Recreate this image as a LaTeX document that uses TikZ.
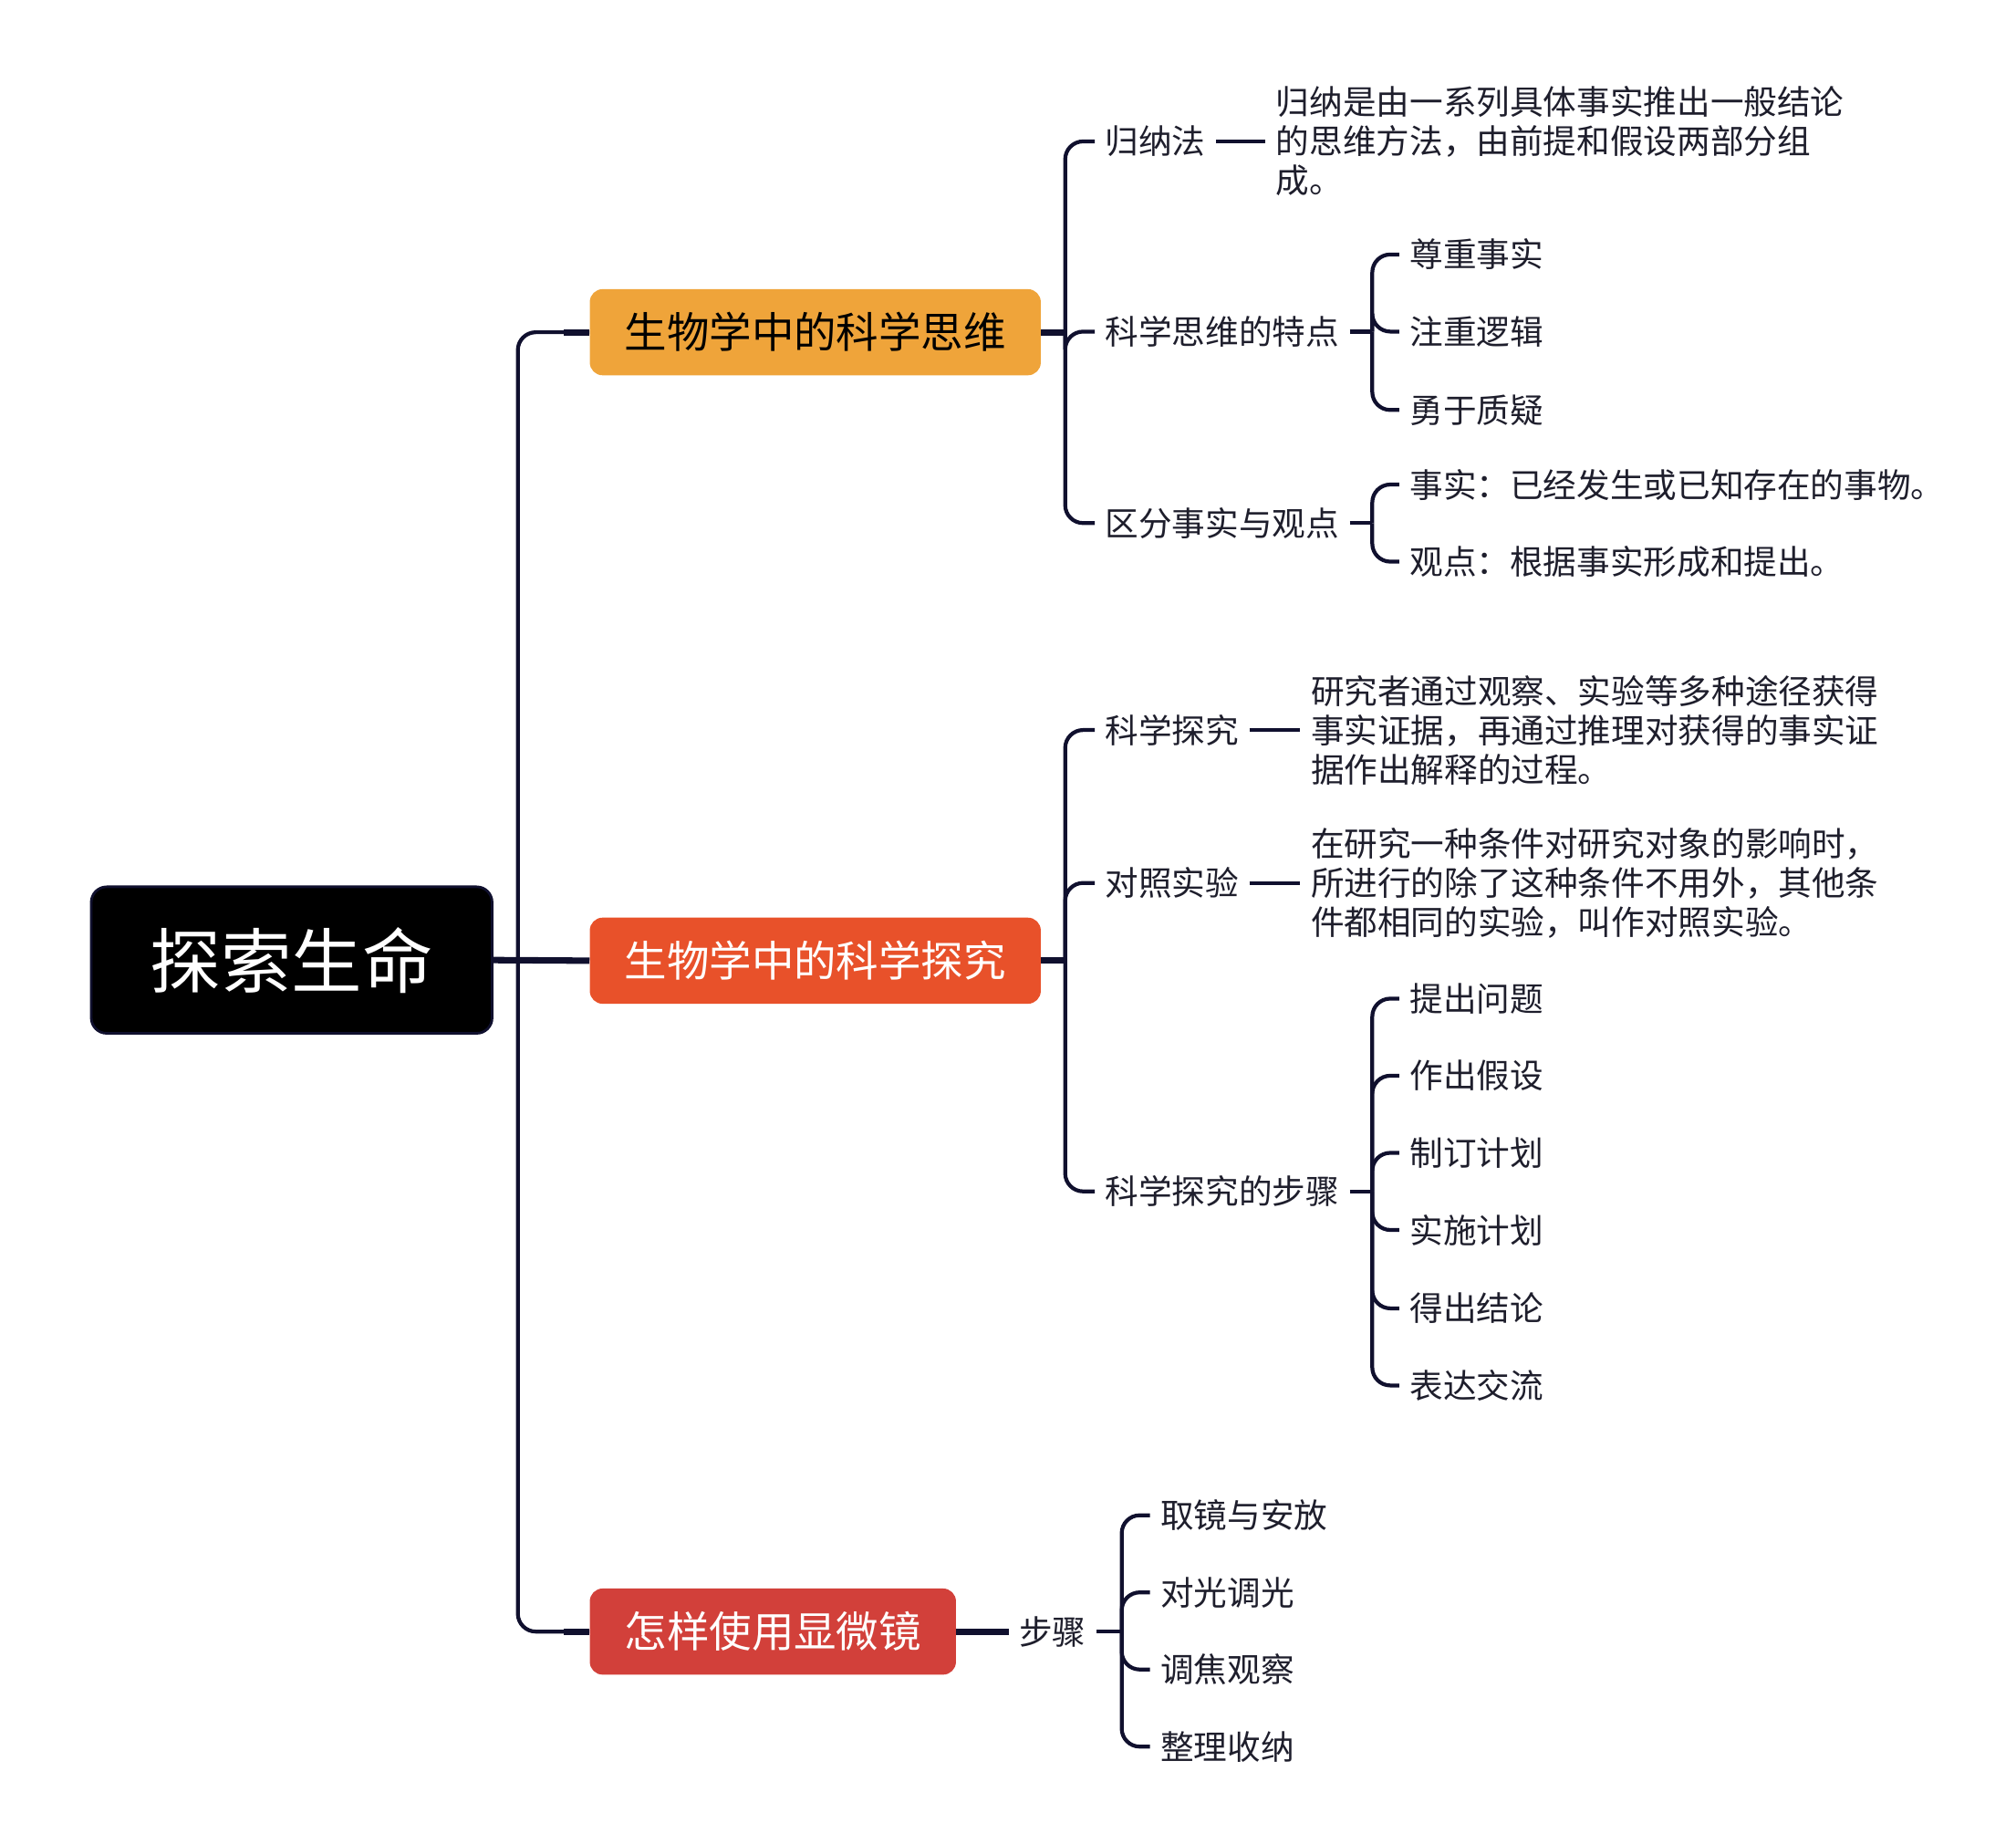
\documentclass[tikz,border=0pt]{standalone}
\usepackage{fontspec}
\newfontfamily\cjk{Noto Sans CJK SC}
\definecolor{navy}{HTML}{10102E}
\definecolor{txt}{HTML}{1E1E2C}
\definecolor{orangeA}{HTML}{EFA43A}
\definecolor{orangeB}{HTML}{E8512A}
\definecolor{redC}{HTML}{D2403A}
\begin{document}
\begin{tikzpicture}[x=1pt,y=-1pt,
  rootbox/.style={rectangle, rounded corners=12pt, fill=black, draw=navy, line width=2pt,
    minimum width=312pt, minimum height=114pt, inner sep=0pt, text=white,
    font=\cjk\fontsize{55}{55}\selectfont},
  topicbox/.style={rectangle, rounded corners=10pt, minimum height=67pt, inner sep=0pt,
    font=\cjk\fontsize{33}{33}\selectfont},
  leaf/.style={anchor=west, inner xsep=8pt, inner ysep=0pt, text=txt, align=left,
    font=\cjk\fontsize{26}{30.5}\selectfont},
  conn/.style={draw=navy, line width=3pt, rounded corners=14pt},
  stub/.style={draw=navy, line width=5pt}
]
\useasboundingbox (0,0) rectangle (1569,1427);

% root and topics
\node[rootbox] (root) at (227,747) {探索生命};
\node[topicbox, fill=orangeA, minimum width=351pt, text=black] (b1) at (634.5,258.5) {生物学中的科学思维};
\node[topicbox, fill=orangeB, minimum width=351pt, text=white] (b2) at (634.5,747.5) {生物学中的科学探究};
\node[topicbox, fill=redC, minimum width=285pt, text=white] (b3) at (601.5,1269.5) {怎样使用显微镜};

\coordinate (s0) at (403,747.5);
\draw[stub] (root.east) -- (b2.west);
\draw[conn] (s0) |- (b1.west);
\draw[conn] (s0) |- (b3.west);
\draw[stub] ([xshift=-20pt]b1.west) -- (b1.west);
\draw[stub] ([xshift=-20pt]b3.west) -- (b3.west);

% ---------- topic 1 ----------
\node[leaf] (t11) at (852,110) {归纳法};
\node[leaf] (t12) at (852,258) {科学思维的特点};
\node[leaf] (t13) at (852,407) {区分事实与观点};
\coordinate (s1) at (829,258.5);
\draw[stub] (b1.east) -- (s1);
\draw[conn] (s1) |- (t11.west);
\draw[conn] (s1) |- (t12.west);
\draw[conn] (s1) |- (t13.west);

\node[leaf] (d11) at (985,110) {归纳是由一系列具体事实推出一般结论\\的思维方法，由前提和假设两部分组\\成。};
\draw[conn] (t11.east) -- (d11.west);

\node[leaf] (d121) at (1089,198) {尊重事实};
\node[leaf] (d122) at (1089,258) {注重逻辑};
\node[leaf] (d123) at (1089,319) {勇于质疑};
\coordinate (s12) at (1068,258);
\draw[conn] (t12.east) -- (s12);
\draw[conn] (s12) |- (d121.west);
\draw[conn] (s12) |- (d122.west);
\draw[conn] (s12) |- (d123.west);

\node[leaf] (d131) at (1089,377) {事实：已经发生或已知存在的事物。};
\node[leaf] (d132) at (1089,437) {观点：根据事实形成和提出。};
\coordinate (s13) at (1068,407);
\draw[conn] (t13.east) -- (s13);
\draw[conn] (s13) |- (d131.west);
\draw[conn] (s13) |- (d132.west);

% ---------- topic 2 ----------
\node[leaf] (t21) at (852,568) {科学探究};
\node[leaf] (t22) at (852,687) {对照实验};
\node[leaf] (t23) at (852,927) {科学探究的步骤};
\coordinate (s2) at (829,747.5);
\draw[stub] (b2.east) -- (s2);
\draw[conn] (s2) |- (t21.west);
\draw[conn] (s2) |- (t22.west);
\draw[conn] (s2) |- (t23.west);

\node[leaf] (d21) at (1012,568) {研究者通过观察、实验等多种途径获得\\事实证据，再通过推理对获得的事实证\\据作出解释的过程。};
\draw[conn] (t21.east) -- (d21.west);
\node[leaf] (d22) at (1012,687) {在研究一种条件对研究对象的影响时，\\所进行的除了这种条件不用外，其他条\\件都相同的实验，叫作对照实验。};
\draw[conn] (t22.east) -- (d22.west);

\node[leaf] (d231) at (1089,777) {提出问题};
\node[leaf] (d232) at (1089,837) {作出假设};
\node[leaf] (d233) at (1089,897) {制订计划};
\node[leaf] (d234) at (1089,957) {实施计划};
\node[leaf] (d235) at (1089,1018) {得出结论};
\node[leaf] (d236) at (1089,1078) {表达交流};
\coordinate (s23) at (1068,927);
\draw[conn] (t23.east) -- (s23);
\foreach \k in {1,...,6} {\draw[conn] (s23) |- (d23\k.west);}

% ---------- topic 3 ----------
\node[leaf] (t31) at (785,1269.5) {步骤};
\draw[stub] (b3.east) -- (t31.west);
\node[leaf] (d311) at (895,1179) {取镜与安放};
\node[leaf] (d312) at (895,1239) {对光调光};
\node[leaf] (d313) at (895,1299) {调焦观察};
\node[leaf] (d314) at (895,1359) {整理收纳};
\coordinate (s31) at (873,1269.5);
\draw[conn] (t31.east) -- (s31);
\foreach \k in {1,...,4} {\draw[conn] (s31) |- (d31\k.west);}
\end{tikzpicture}
\end{document}
